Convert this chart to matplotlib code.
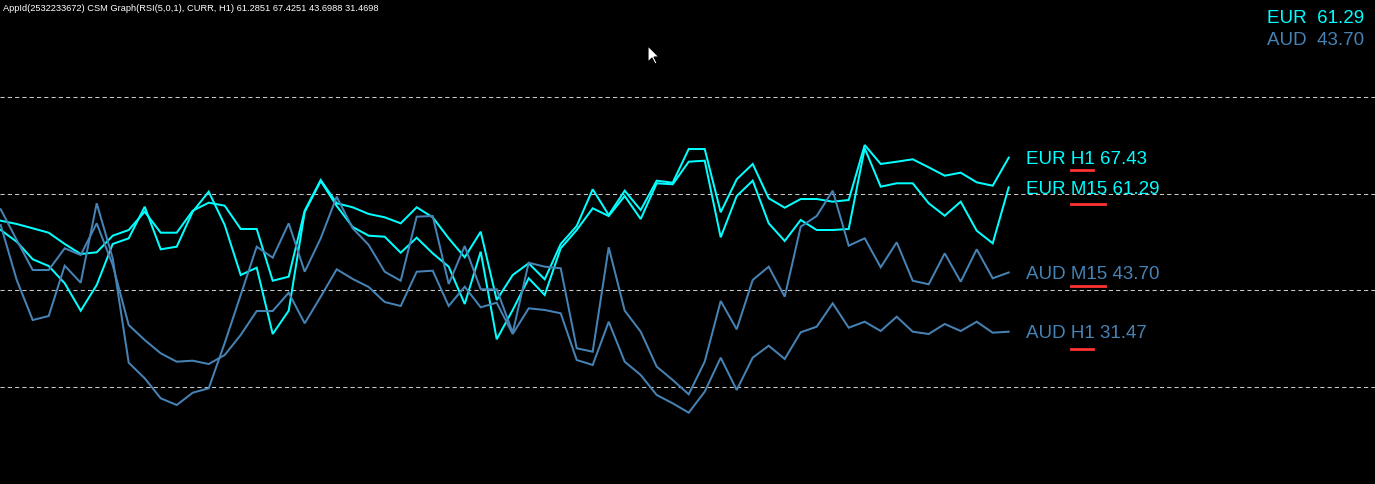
import numpy as np
import matplotlib
matplotlib.use("Agg")
import matplotlib.pyplot as plt
from matplotlib.lines import Line2D
from matplotlib.patches import Polygon
from matplotlib.transforms import IdentityTransform, offset_copy

# ================= Data (RSI values per bar) =================
eur_h1 = [54.40, 53.72, 52.83, 51.92, 49.59, 47.52, 47.87, 51.30, 52.48, 56.26,
          51.92, 51.92, 56.47, 58.12, 57.50, 52.69, 52.69, 42.00, 42.83, 56.47,
          62.81, 58.00, 57.17, 55.79, 55.10, 53.86, 57.17, 55.10, 50.76, 46.84,
          52.13, 38.02, 43.18, 45.60, 42.29, 49.59, 53.31, 60.89, 55.58, 60.60,
          56.61, 62.67, 62.25, 69.21, 69.21, 56.14, 62.95, 66.12, 59.03, 57.09,
          58.88, 58.88, 58.33, 58.68, 70.04, 66.12, 66.59, 67.09, 65.43, 63.70,
          64.32, 62.33, 61.63, 67.43]
eur_m15 = [52.48, 50.06, 46.43, 45.04, 41.47, 35.81, 41.12, 49.59, 50.76, 57.29,
           48.49, 49.03, 56.26, 60.39, 53.51, 43.18, 44.69, 30.99, 35.81, 56.20,
           62.60, 57.44, 53.10, 51.30, 51.09, 47.79, 50.89, 47.66, 44.90, 37.19,
           48.00, 29.90, 35.95, 42.50, 39.05, 48.70, 52.48, 56.96, 55.37, 59.50,
           54.75, 62.13, 61.92, 66.59, 66.80, 50.97, 59.50, 62.67, 53.86, 50.21,
           54.55, 52.48, 52.48, 52.69, 69.36, 61.43, 62.13, 62.13, 58.00, 55.43,
           58.33, 52.33, 49.73, 61.29]
aud_m15 = [53.51, 42.15, 33.88, 34.71, 45.10, 41.59, 58.00, 46.63, 25.06, 21.84,
           17.71, 16.32, 18.86, 19.77, 29.13, 39.05, 49.03, 46.76, 53.86, 43.86,
           50.76, 59.36, 52.83, 49.38, 43.86, 42.00, 55.23, 55.37, 41.32, 49.17,
           40.23, 40.23, 31.26, 45.72, 44.90, 44.57, 28.04, 27.33, 48.90, 35.81,
           31.47, 24.24, 21.49, 18.53, 25.27, 37.81, 31.96, 42.15, 44.90, 38.70,
           53.16, 55.37, 60.60, 49.24, 50.76, 44.77, 49.94, 42.00, 41.26, 47.66,
           41.80, 48.49, 42.50, 43.70]
aud_h1 = [56.76, 50.41, 44.21, 44.21, 48.70, 47.31, 53.86, 45.25, 32.85, 29.75,
          27.00, 25.27, 25.48, 24.79, 26.65, 30.79, 35.74, 35.74, 39.52, 33.20,
          38.70, 44.36, 42.36, 40.70, 37.60, 36.78, 43.86, 44.07, 36.78, 40.76,
          36.51, 37.46, 30.99, 36.30, 35.95, 35.27, 25.62, 24.59, 33.53, 25.27,
          22.52, 18.39, 16.67, 14.73, 19.07, 26.10, 19.42, 26.10, 28.57, 25.83,
          31.34, 32.50, 37.33, 32.29, 33.53, 31.61, 34.57, 31.47, 30.99, 33.06,
          31.61, 33.53, 31.26, 31.47]

levels = [20, 40, 60, 80]
header = "AppId(2532233672) CSM Graph(RSI(5,0,1), CURR, H1) 61.2851 67.4251 43.6988 31.4698"
summary_names = ["EUR", "AUD"]
summary_values = [61.29, 43.70]

# ================= Style =================
W, H, DPI = 1375, 484, 100
CYAN = "#00FFFF"
BLUE = "#4682B4"
RED = "#FF3333"
FONT = "Liberation Sans"
LABEL_FS = 13.5
CAP_PX = 13.5          # cap height of label font in pixels

currency_color = {"EUR": CYAN, "AUD": BLUE}
lines = [("EUR", "H1", eur_h1, 12),
         ("EUR", "M15", eur_m15, 17),
         ("AUD", "M15", aud_m15, 14),
         ("AUD", "H1", aud_h1, 17)]   # last item: underline gap below label centre (px)

# ================= Plot =================
fig = plt.figure(figsize=(W / DPI, H / DPI), dpi=DPI, facecolor="black")
ax = fig.add_axes([0, 0, 1, 1], facecolor="black")
ax.set_axis_off()

x = np.arange(len(eur_h1))
x0 = -0.044
ax.set_xlim(x0, x0 + W / 16.0)
ax.set_ylim(0, 100)

for lv in levels:
    ax.axhline(lv, color="#C8C8C8", lw=0.75, dashes=(4, 3))

for cur, tf, vals, _ in lines:
    ax.plot(x, vals, color=currency_color[cur], lw=1.45, solid_joinstyle="miter")

# value labels at right end of each line
label_tr = offset_copy(ax.transData, fig=fig, y=-CAP_PX / 2, units="dots")
label_texts = []
for cur, tf, vals, _ in lines:
    t = ax.text(x[-1] + 1.08, vals[-1], f"{cur} {tf} {vals[-1]:.2f}",
                transform=label_tr, color=currency_color[cur],
                fontsize=LABEL_FS, family=FONT, va="baseline", ha="left")
    label_texts.append(t)

# header text, top left
fig.text(3 / W, 1 - 11 / H, header, color="white", fontsize=6.7,
         family=FONT, va="baseline", ha="left")

# summary, top right
for k, (name, val) in enumerate(zip(summary_names, summary_values)):
    fig.text(1364 / W, 1 - (23 + 22 * k) / H, f"{name}  {val:.2f}",
             color=currency_color[name], fontsize=LABEL_FS, family=FONT,
             va="baseline", ha="right")

# red underline under timeframe of each label
fig.canvas.draw()
rend = fig.canvas.get_renderer()


def text_width(s):
    tmp = fig.text(0, 0, s, fontsize=LABEL_FS, family=FONT)
    w = tmp.get_window_extent(rend).width
    tmp.remove()
    return w


for (cur, tf, vals, gap), t in zip(lines, label_texts):
    bb = t.get_window_extent(rend)
    end = bb.x0 + text_width(f"{cur} {tf}")
    start = end - text_width(tf)
    ycentre = ax.transData.transform((x[-1], vals[-1]))[1]
    yl = ycentre - gap
    fig.add_artist(Line2D([start, end - 2], [yl, yl], color=RED, lw=2.0,
                          transform=IdentityTransform()))

# mouse pointer left in the screenshot
tip = (648, 46)
shape = [(0, 0), (0, 16), (4, 12), (7, 18), (9, 17), (6, 11), (11, 11)]
pts = [(tip[0] + dx, H - (tip[1] + dy)) for dx, dy in shape]
fig.add_artist(Polygon(pts, closed=True, facecolor="white", edgecolor="black",
                       lw=0.8, transform=IdentityTransform()))

fig.savefig("out.png", dpi=DPI, facecolor="black")
